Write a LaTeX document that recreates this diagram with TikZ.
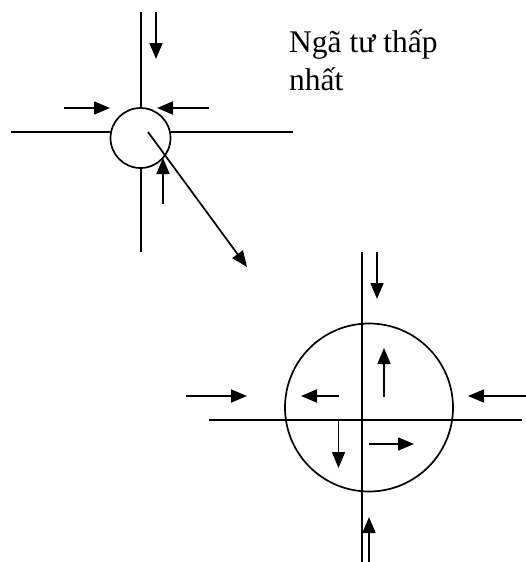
\documentclass[tikz,border=0pt]{standalone}
\usepackage{fontspec}
\setmainfont{Liberation Serif}
\usetikzlibrary{arrows.meta}
\begin{document}
\begin{tikzpicture}[x=1pt,y=-1pt,
  ln/.style={line width=1.7pt},
  arr/.style={line width=1.7pt,-{Triangle[length=16pt,width=13pt]}},
  ring/.style={circle,draw,line width=1.7pt,inner sep=0pt},
  lbl/.style={font=\fontsize{31.5}{38}\selectfont,anchor=base west,inner sep=0pt}]
\useasboundingbox (0,0) rectangle (526,562);
% small intersection
\node[ring,minimum size=60pt] (c1) at (140.5,138) {};
\draw[ln] (141,12) -- (c1.north -| 141,0);
\draw[ln] (141,168) -- (141,252);
\draw[ln] (11,132) -- (110.5,132);
\draw[ln] (170.5,132) -- (293,132);
\draw[arr] (156,12) -- (156,59);
\draw[arr] (64,108) -- (110,108);
\draw[arr] (209,108) -- (157,108);
\draw[arr] (163,204) -- (163,158);
\coordinate (d0) at (148,132);
\coordinate (d1) at (247,267);
\draw[arr] (d0) -- (d1);
\node[lbl] (t1) at (289,52) {Ngã tư thấp};
\node[lbl] (t2) at (289,90) {nhất};
% large intersection
\node[ring,minimum size=168pt] (c2) at (369,407.5) {};
\draw[ln] (362,252) -- (362,562);
\draw[ln] (209,420) -- (522,420);
\draw[arr] (377,252) -- (377,299);
\draw[arr] (186,396) -- (247,396);
\draw[arr] (526,396) -- (468,396);
\draw[arr] (339,396) -- (301,396);
\draw[arr] (384,397) -- (384,348);
\draw[arr] (338.5,420) -- (338.5,468);
\draw[arr] (369,444) -- (414,444);
\draw[arr] (369,562) -- (369,517);
\end{tikzpicture}
\end{document}
